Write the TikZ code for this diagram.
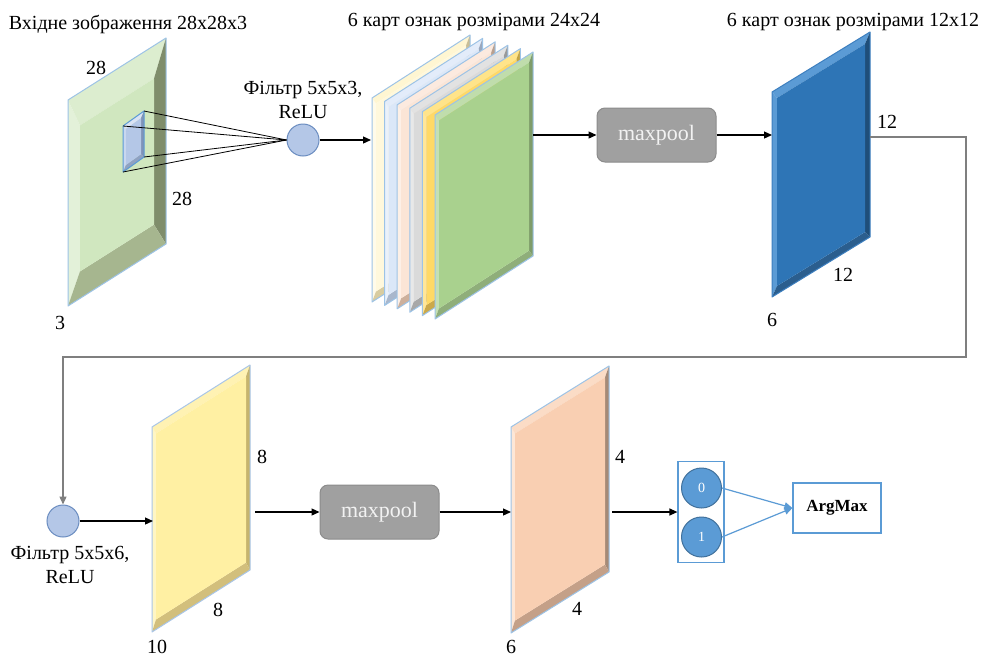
\documentclass[tikz,border=0pt]{standalone}
\usepackage{fontspec}
\setmainfont{Liberation Serif}
\usetikzlibrary{arrows.meta}

% ---- colour sets for the bevelled feature maps (face/left/top/right/bottom/edge)
\definecolor{inpface}{HTML}{D0E7BF}\definecolor{inpleft}{HTML}{E3F1D9}\definecolor{inptop}{HTML}{DCEDCF}
\definecolor{inpright}{HTML}{7F8D6B}\definecolor{inpbot}{HTML}{A6B68F}\definecolor{inpedge}{HTML}{9DC3E6}

\definecolor{fltface}{HTML}{B4C7E7}\definecolor{fltleft}{HTML}{C9D7EF}\definecolor{flttop}{HTML}{DAE3F3}
\definecolor{fltright}{HTML}{7F93B8}\definecolor{fltbot}{HTML}{8FA2C2}\definecolor{fltedge}{HTML}{5B9BD5}

\definecolor{saface}{HTML}{FFF8DC}\definecolor{saleft}{HTML}{FFFBEA}\definecolor{satop}{HTML}{FFF6D2}
\definecolor{saright}{HTML}{C9BE96}\definecolor{sabot}{HTML}{D8CCA0}\definecolor{saedge}{HTML}{9DC3E6}

\definecolor{sbface}{HTML}{DBE7F8}\definecolor{sbleft}{HTML}{EAF1FB}\definecolor{sbtop}{HTML}{E3ECFA}
\definecolor{sbright}{HTML}{9AA8BE}\definecolor{sbbot}{HTML}{A9B7CC}\definecolor{sbedge}{HTML}{9DC3E6}

\definecolor{scface}{HTML}{FBE5D6}\definecolor{scleft}{HTML}{FDF0E7}\definecolor{sctop}{HTML}{FCEADF}
\definecolor{scright}{HTML}{B9A08E}\definecolor{scbot}{HTML}{CDB09C}\definecolor{scedge}{HTML}{9DC3E6}

\definecolor{sdface}{HTML}{DADADA}\definecolor{sdleft}{HTML}{E8E8E8}\definecolor{sdtop}{HTML}{E2E2E2}
\definecolor{sdright}{HTML}{9A9A9A}\definecolor{sdbot}{HTML}{A8A8A8}\definecolor{sdedge}{HTML}{9DC3E6}

\definecolor{seface}{HTML}{FFD966}\definecolor{seleft}{HTML}{FFE699}\definecolor{setop}{HTML}{FFE48A}
\definecolor{seright}{HTML}{C4A440}\definecolor{sebot}{HTML}{CBA94A}\definecolor{seedge}{HTML}{9DC3E6}

\definecolor{sfface}{HTML}{A9D18E}\definecolor{sfleft}{HTML}{C5E0B4}\definecolor{sftop}{HTML}{C0DDAC}
\definecolor{sfright}{HTML}{7E9C6A}\definecolor{sfbot}{HTML}{8FAE7A}\definecolor{sfedge}{HTML}{9DC3E6}

\definecolor{blface}{HTML}{2E75B6}\definecolor{blleft}{HTML}{5B9BD5}\definecolor{bltop}{HTML}{5B9BD5}
\definecolor{blright}{HTML}{1F4E79}\definecolor{blbot}{HTML}{2B5E8E}\definecolor{bledge}{HTML}{3D7FBF}

\definecolor{yeface}{HTML}{FFF0A3}\definecolor{yeleft}{HTML}{FFF6C4}\definecolor{yetop}{HTML}{FFF2B3}
\definecolor{yeright}{HTML}{C6B46E}\definecolor{yebot}{HTML}{D2BF7C}\definecolor{yeedge}{HTML}{A9C6E8}

\definecolor{peface}{HTML}{F9CFB2}\definecolor{peleft}{HTML}{FDE7D7}\definecolor{petop}{HTML}{FBDCC6}
\definecolor{peright}{HTML}{A58A77}\definecolor{pebot}{HTML}{C4A088}\definecolor{peedge}{HTML}{9DC3E6}

\definecolor{filtfill}{HTML}{B4C7E7}\definecolor{filtdraw}{HTML}{6A8CC0}
\definecolor{poolfill}{HTML}{A0A0A0}\definecolor{pooldraw}{HTML}{8C8C8C}
\definecolor{accent}{HTML}{5B9BD5}\definecolor{accentdark}{HTML}{41719C}
\definecolor{wire}{HTML}{7F7F7F}

% bevelled parallelogram: x, y (top-left, y downwards), width, rise, height,
% bevel x, bevel top, bevel bottom, colour prefix
\newcommand{\bevelmap}[9]{%
  \coordinate (o1) at (#1,#2);
  \coordinate (o2) at (#1+#3,#2-#4);
  \coordinate (o3) at (#1+#3,#2-#4+#5);
  \coordinate (o4) at (#1,#2+#5);
  \coordinate (i1) at ({#1+#6},{#2-#4*#6/#3+#7});
  \coordinate (i2) at ({#1+#3-#6},{#2-#4*(#3-#6)/#3+#7});
  \coordinate (i3) at ({#1+#3-#6},{#2+#5-#4*(#3-#6)/#3-#8});
  \coordinate (i4) at ({#1+#6},{#2+#5-#4*#6/#3-#8});
  \fill[#9left]  (o1) -- (i1) -- (i4) -- (o4) -- cycle;
  \fill[#9top]   (o1) -- (o2) -- (i2) -- (i1) -- cycle;
  \fill[#9right] (o2) -- (o3) -- (i3) -- (i2) -- cycle;
  \fill[#9bot]   (o4) -- (i4) -- (i3) -- (o3) -- cycle;
  \fill[#9face]  (i1) -- (i2) -- (i3) -- (i4) -- cycle;
  \draw[#9edge, line width=1pt, line join=round] (o1) -- (o2) -- (o3) -- (o4) -- cycle;
}

\tikzset{
  lbl/.style={font=\fontsize{20}{24}\selectfont, inner sep=0pt},
  filt/.style={circle, minimum size=32pt, inner sep=0pt, fill=filtfill, draw=filtdraw, line width=1pt},
  pool/.style={rounded corners=8pt, minimum width=119pt, minimum height=54pt, fill=poolfill,
    draw=pooldraw, line width=1pt, text=white!90!gray, font=\fontsize{22}{24}\selectfont},
  arr/.style={-{Triangle[length=8pt,width=7pt]}, line width=1.2pt},
  rays/.style={line width=0.8pt},
  outc/.style={circle, minimum size=40pt, inner sep=0pt, fill=accent, draw=accentdark,
    line width=1pt, text=white, font=\fontsize{14}{16}\selectfont},
  abox/.style={draw=accent, line width=1.2pt, fill=white},
}

\begin{document}
\begin{tikzpicture}[x=1pt, y=-1pt]
\useasboundingbox (0,0) rectangle (981,659);
\fill[white] (0,0) rectangle (981,659);

% ---------------- top row ----------------
\node[lbl] (tin) at (128,24) {Вхідне зображення 28x28x3};
\node[lbl] (tc1) at (474,22) {6 карт ознак розмірами 24x24};
\node[lbl] (tp1) at (853,22) {6 карт ознак розмірами 12x12};

% input image with the receptive field
\bevelmap{68}{100}{98}{62}{206}{12}{33}{27}{inp}
\bevelmap{123}{126}{21}{15}{46}{3}{5}{5}{flt}
\coordinate (rfA) at (144,111);
\coordinate (rfB) at (123,126);
\coordinate (rfC) at (144,157);
\coordinate (rfD) at (123,172);
\node[lbl] (n28a) at (96,68) {28};
\node[lbl] (n28b) at (182,199) {28};
\node[lbl] (n3a) at (60,323) {3};

% first convolution filter
\node[lbl, align=center] (ft1) at (303,100) {Фільтр 5x5x3,\\ReLU};
\node[filt] (f1) at (303,140) {};
\foreach \c in {rfA,rfB,rfC,rfD} \draw[rays] (\c) -- (f1.west);

% stack of six 24x24 maps
\bevelmap{372.0}{98.0}{98}{63}{204}{4}{8}{8}{sa}
\bevelmap{384.6}{101.4}{98}{63}{204}{4}{8}{8}{sb}
\bevelmap{397.2}{104.8}{98}{63}{204}{4}{8}{8}{sc}
\bevelmap{409.8}{108.2}{98}{63}{204}{4}{8}{8}{sd}
\bevelmap{422.4}{111.6}{98}{63}{204}{4}{8}{8}{se}
\bevelmap{435.0}{115.0}{98}{63}{204}{4}{8}{8}{sf}
\coordinate (stkL) at (371,140);
\coordinate (stkR) at (533,135);
\draw[arr] (f1.east) -- (stkL);

% first pooling
\node[pool] (mp1) at (656.5,135) {maxpool};
\draw[arr] (stkR) -- (mp1.west);

% pooled 12x12 maps
\bevelmap{772}{92}{98}{60}{205}{5}{9}{8}{bl}
\coordinate (blL) at (772,135);
\coordinate (blR) at (870,137);
\draw[arr] (mp1.east) -- (blL);
\node[lbl] (n12a) at (887,122) {12};
\node[lbl] (n12b) at (843,275) {12};
\node[lbl] (n6a) at (772,320) {6};

% ---------------- bottom row ----------------
\node[filt] (f2) at (63,521) {};
\node[lbl, align=center] (ft2) at (70,565) {Фільтр 5x5x6,\\ReLU};
\coordinate (turn) at (966,357);
\draw[arr, wire, line width=1.3pt] (blR) -| (turn) -| (f2.north);

% 10 maps 8x8
\bevelmap{152}{427}{98}{62}{205}{4}{9}{10}{ye}
\coordinate (yeL) at (153,521);
\coordinate (yeR) at (255,512);
\draw[arr] (f2.east) -- (yeL);
\node[lbl] (n8a) at (262,457) {8};
\node[lbl] (n8b) at (218,610) {8};
\node[lbl] (n10) at (157,647) {10};

% second pooling
\node[pool] (mp2) at (379.5,512) {maxpool};
\draw[arr] (yeR) -- (mp2.west);

% 6 maps 4x4
\bevelmap{511}{427}{98}{61}{206}{4}{9}{10}{pe}
\coordinate (peL) at (511,512);
\coordinate (peR) at (612,512);
\draw[arr] (mp2.east) -- (peL);
\node[lbl] (n4a) at (620,457) {4};
\node[lbl] (n4b) at (577,609) {4};
\node[lbl] (n6b) at (511,647) {6};

% output neurons and ArgMax
\node[abox, minimum width=46pt, minimum height=101pt] (ob) at (701,512) {};
\node[outc] (c0) at (701.5,488) {0};
\node[outc] (c1) at (701.5,537) {1};
\draw[arr] (peR) -- (ob.west);
\node[abox, minimum width=88pt, minimum height=50pt, font=\fontsize{17}{19}\selectfont\bfseries] (am) at (837,508) {ArgMax};
\draw[arr, accent] (c0.east) -- (am.west);
\draw[arr, accent] (c1.east) -- (am.west);
\end{tikzpicture}
\end{document}
